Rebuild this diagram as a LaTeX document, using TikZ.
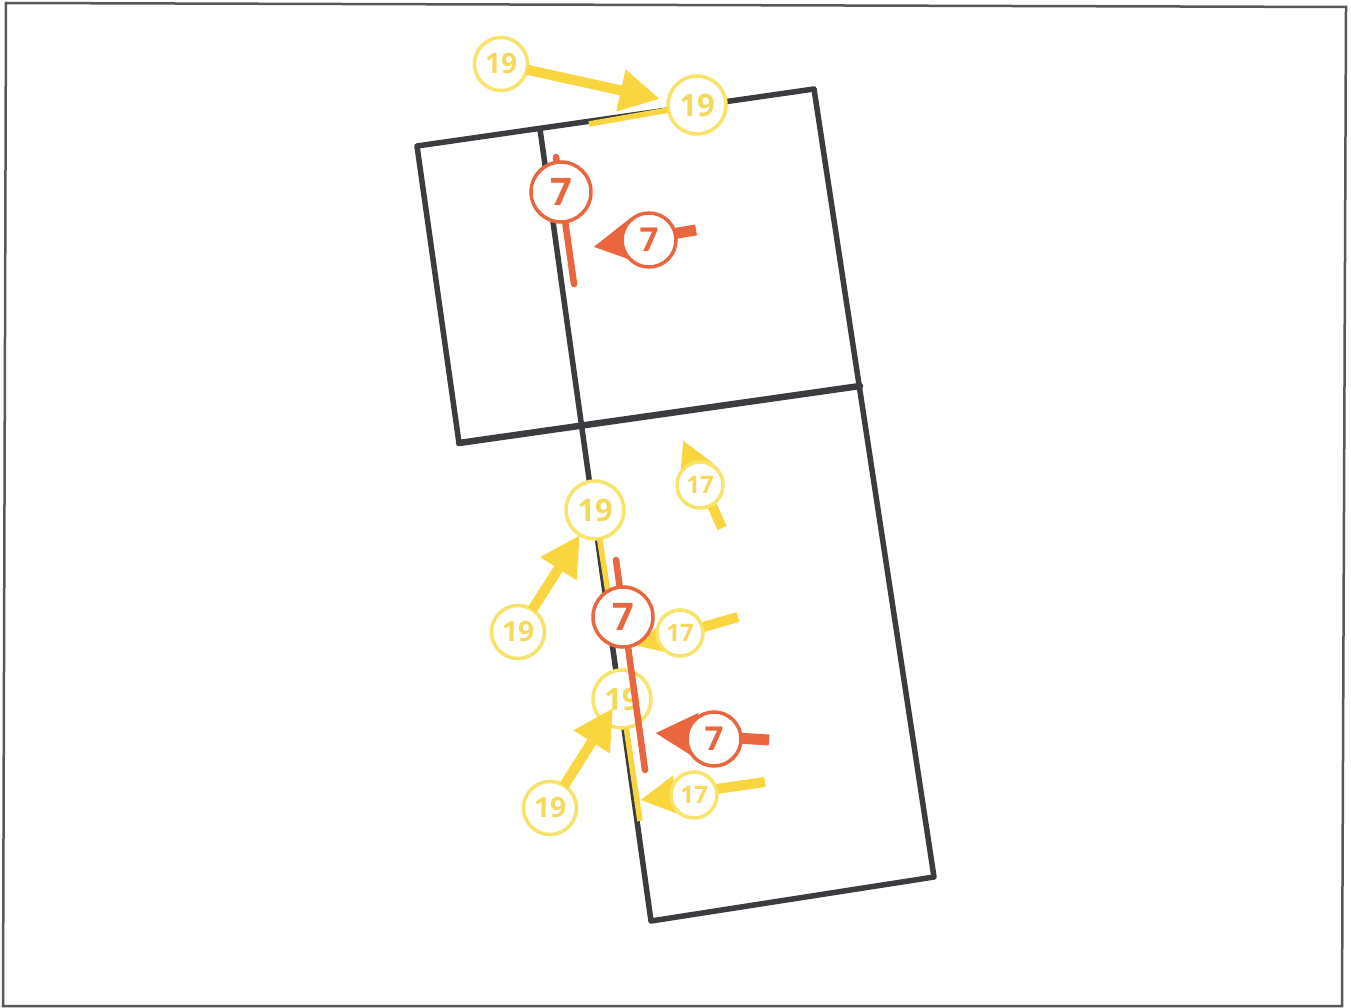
\documentclass[tikz,border=0pt]{standalone}
\usepackage{fontspec}
\setmainfont{Open Sans}
\usetikzlibrary{arrows.meta}
\definecolor{wallc}{HTML}{3C3C40}
\definecolor{framec}{HTML}{58585A}
\definecolor{yel}{HTML}{F9D63F}
\definecolor{yelring}{HTML}{F8E468}
\definecolor{yeltxt}{HTML}{F4D95A}
\definecolor{redc}{HTML}{E9663F}
\tikzset{
  wall/.style={draw=wallc,line width=5.5pt,line cap=round,line join=round},
  frameline/.style={draw=framec,line width=2.5pt},
  tagbase/.style={circle,fill=white,inner sep=0pt,outer sep=0pt,line width=3.5pt,text centered},
  ytagL/.style={tagbase,draw=yelring,text=yeltxt,minimum size=58pt,font=\fontsize{31}{31}\selectfont\bfseries},
  ytagM/.style={tagbase,draw=yelring,text=yeltxt,minimum size=53pt,font=\fontsize{28}{28}\selectfont\bfseries},
  ytagS/.style={tagbase,draw=yelring,text=yeltxt,minimum size=46pt,font=\fontsize{24}{24}\selectfont\bfseries},
  rtagL/.style={tagbase,draw=redc,text=redc,minimum size=60pt,font=\fontsize{38}{38}\selectfont\bfseries},
  rtagM/.style={tagbase,draw=redc,text=redc,minimum size=54pt,font=\fontsize{33}{33}\selectfont\bfseries},
  yline/.style={draw=yel,line width=5.5pt},
  rline/.style={draw=redc,line width=6.5pt,line cap=round},
  yarrow/.style={draw=yel,line width=10pt,-{Triangle[length=#1,width=#1,fill=yel]}},
  rarrow/.style={draw=redc,line width=11pt,-{Triangle[length=#1,width=#1,fill=redc]}},
}
\begin{document}
\begin{tikzpicture}[x=1pt,y=-1pt]
\useasboundingbox (0,0) rectangle (1351,1008);
\fill[white] (0,0) rectangle (1351,1008);
% frame
\coordinate (f1) at (6,3);
\coordinate (f2) at (1346,7);
\coordinate (f3) at (1342,1006);
\coordinate (f4) at (3,1006);
\draw[frameline] (f1) -- (f2) -- (f3) -- (f4) -- cycle;
% walls
\coordinate (a) at (417,146);
\coordinate (b) at (814,89);
\coordinate (c) at (934,877);
\coordinate (d) at (651,921);
\coordinate (e) at (459,443);
\coordinate (g) at (860,386);
\coordinate (h) at (540,129);
\draw[wall] (e) -- (a) -- (b) -- (c) -- (d) -- (h);
\draw[wall,line width=6.5pt] (e) -- (g);
% top yellow arrow and wall mark
\node[ytagL] (y1) at (697,105) {19};
\coordinate (y1end) at (589,124);
\draw[yline] (y1) -- (y1end);
\node[ytagM] (y2) at (501,64) {19};
\coordinate (y2tip) at (660,99);
\draw[yarrow=40pt] (y2) -- (y2tip);
% top red
\coordinate (r1a) at (556,157);
\coordinate (r1b) at (574,284);
\draw[rline] (r1a) -- (r1b);
\node[rtagL] (r1) at (561,192) {7};
\coordinate (r2tail) at (696,230);
\coordinate (r2tip) at (593,247);
\draw[rarrow=42pt] (r2tail) -- (r2tip);
\node[rtagM] (r2) at (649,240) {7};
% 17 top
\coordinate (s1tail) at (722,528);
\coordinate (s1tip) at (683,440);
\draw[yarrow=34pt] (s1tail) -- (s1tip);
\node[ytagS] (s1) at (700,485) {17};
% lower yellow wall marks
\node[ytagL] (y3) at (595,510) {19};
\coordinate (y3end) at (608,592);
\draw[yline] (y3) -- (y3end);
\node[ytagL] (y4) at (622,699) {19};
\coordinate (y4end) at (640,821);
\draw[yline] (y4) -- (y4end);
% 17 middle
\coordinate (s2tail) at (738,617);
\coordinate (s2tip) at (637,646);
\draw[yarrow=34pt] (s2tail) -- (s2tip);
\node[ytagS] (s2) at (680,633) {17};
% lower red
\coordinate (r3a) at (616,560);
\coordinate (r3b) at (645,770);
\draw[rline] (r3a) -- (r3b);
\node[rtagL] (r3) at (623,617) {7};
\coordinate (r4tail) at (769,740);
\coordinate (r4tip) at (655,733);
\draw[rarrow=42pt] (r4tail) -- (r4tip);
\node[rtagM] (r4) at (714,739) {7};
% 17 lower
\coordinate (s3tail) at (765,782);
\coordinate (s3tip) at (640,800);
\draw[yarrow=36pt] (s3tail) -- (s3tip);
\node[ytagS] (s3) at (694,795) {17};
% left 19 arrows
\node[ytagM] (y5) at (518,632) {19};
\coordinate (y5tip) at (580,535);
\draw[yarrow=40pt] (y5) -- (y5tip);
\node[ytagM] (y6) at (550,808) {19};
\coordinate (y6tip) at (613,708);
\draw[yarrow=40pt] (y6) -- (y6tip);
\end{tikzpicture}
\end{document}
